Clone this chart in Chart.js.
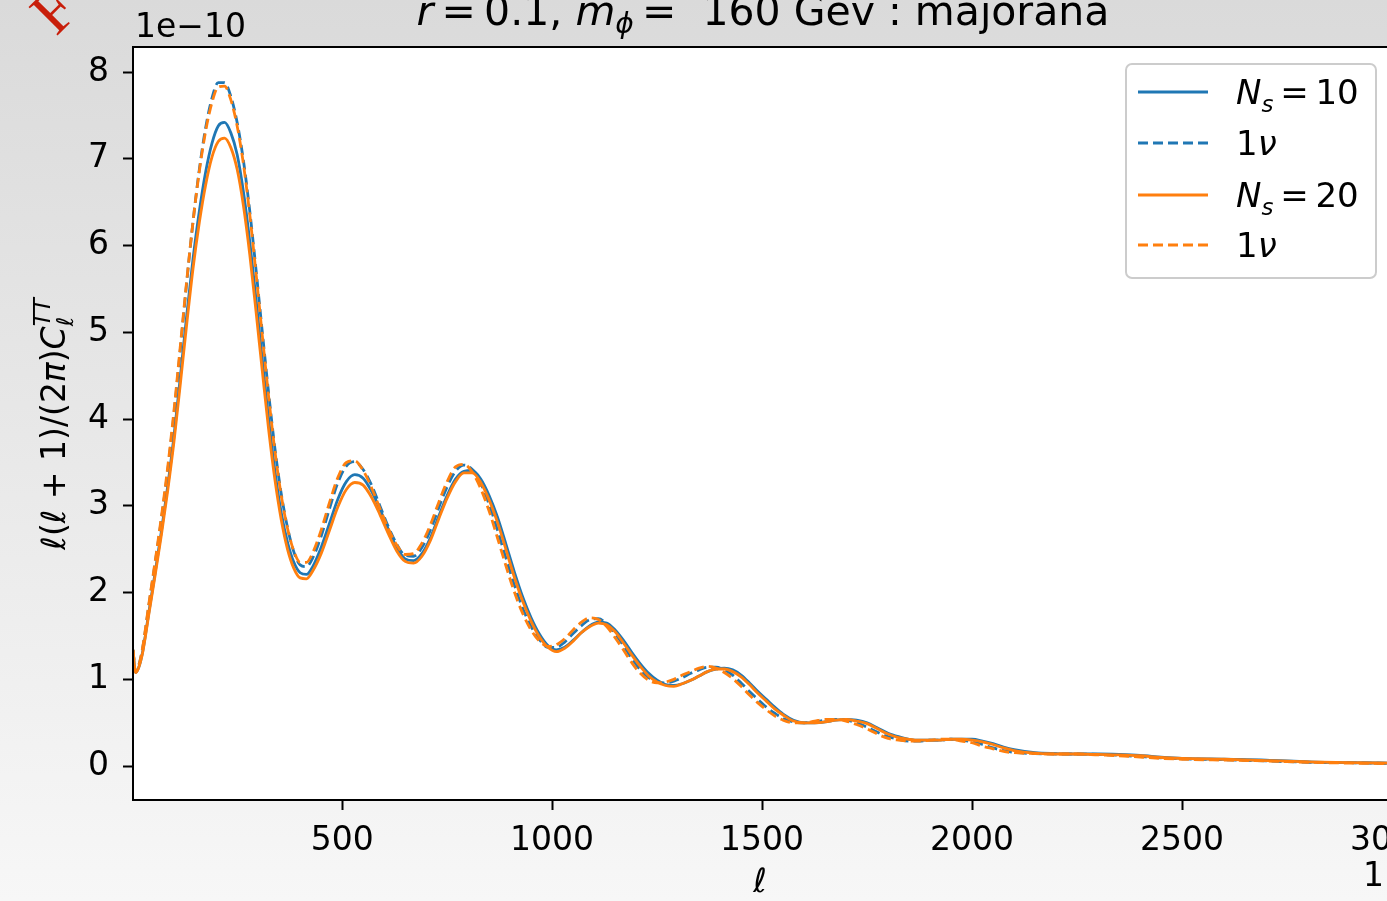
<!DOCTYPE html>
<html>
<head>
<meta charset="utf-8">
<script src="https://cdn.jsdelivr.net/npm/chart.js@4.4.1/dist/chart.umd.min.js"></script>
<style>
  html, body { margin: 0; padding: 0; overflow: hidden; width: 1387px; height: 901px; }
  canvas { display: block; }
</style>
</head>
<body>
<canvas id="cl" width="1450" height="901"></canvas>
<script>
// multipole grid
const ell = [
  2, 8, 15, 25, 40, 55, 70, 85, 100, 115, 130, 145, 160, 175, 190, 205, 220, 235, 250, 265, 280, 295, 310, 325, 340, 355, 370, 385, 400, 415,
  430, 450, 470, 490, 510, 530, 550, 570, 590, 610, 630, 650, 670, 690, 710, 730, 750, 770, 790, 810, 830, 850, 870, 890, 910, 930, 950, 970, 990, 1010,
  1030, 1050, 1070, 1090, 1110, 1130, 1150, 1170, 1190, 1210, 1230, 1250, 1270, 1290, 1310, 1330, 1350, 1370, 1390, 1410, 1430, 1450, 1470, 1490, 1510, 1530, 1550,
  1575, 1600, 1625, 1650, 1675, 1700, 1725, 1750, 1775, 1800, 1825, 1850, 1875, 1900, 1925, 1950, 1975, 2000, 2025, 2050, 2075, 2100,
  2150, 2200, 2250, 2300, 2350, 2400, 2450, 2500, 2600, 2700, 2800, 2900, 3000
];

// l(l+1)/(2pi) C_l^TT in units of 1e-10
const ns10 = [
  1.34, 1.08, 1.13, 1.32, 1.78, 2.24, 2.72, 3.24, 3.82, 4.50, 5.20, 5.85, 6.40, 6.85, 7.18, 7.38, 7.42, 7.30, 7.05, 6.62, 6.05, 5.38, 4.68, 4.00, 3.40, 2.92, 2.58, 2.35, 2.23, 2.21,
  2.30, 2.52, 2.80, 3.08, 3.28, 3.36, 3.32, 3.17, 2.96, 2.73, 2.52, 2.39, 2.37, 2.45, 2.63, 2.88, 3.12, 3.31, 3.40, 3.41, 3.31, 3.12, 2.87, 2.56, 2.24, 1.95, 1.71, 1.52, 1.39, 1.34,
  1.37, 1.45, 1.54, 1.62, 1.66, 1.65, 1.57, 1.45, 1.31, 1.18, 1.07, 0.99, 0.94, 0.93, 0.95, 0.99, 1.04, 1.09, 1.12, 1.13, 1.11, 1.05, 0.96, 0.86, 0.77, 0.68, 0.60,
  0.53, 0.50, 0.50, 0.51, 0.53, 0.54, 0.53, 0.50, 0.44, 0.38, 0.34, 0.31, 0.30, 0.30, 0.30, 0.31, 0.31, 0.31, 0.29, 0.26, 0.22, 0.19,
  0.155, 0.145, 0.14, 0.14, 0.135, 0.125, 0.105, 0.09, 0.08, 0.07, 0.05, 0.04, 0.035
];
const ns10OneNu = [
  1.34, 1.09, 1.15, 1.36, 1.86, 2.35, 2.86, 3.42, 4.08, 4.82, 5.58, 6.28, 6.88, 7.36, 7.70, 7.88, 7.88, 7.72, 7.42, 6.98, 6.40, 5.72, 5.00, 4.30, 3.66, 3.14, 2.75, 2.47, 2.32, 2.30,
  2.40, 2.65, 2.97, 3.27, 3.46, 3.51, 3.42, 3.24, 3.00, 2.76, 2.56, 2.43, 2.42, 2.52, 2.72, 2.98, 3.22, 3.40, 3.47, 3.42, 3.26, 3.02, 2.72, 2.40, 2.09, 1.82, 1.61, 1.46, 1.37, 1.37,
  1.43, 1.53, 1.62, 1.69, 1.70, 1.64, 1.53, 1.39, 1.24, 1.11, 1.02, 0.97, 0.96, 0.98, 1.02, 1.07, 1.11, 1.14, 1.14, 1.11, 1.05, 0.96, 0.86, 0.77, 0.68, 0.61, 0.55,
  0.51, 0.50, 0.51, 0.53, 0.54, 0.53, 0.50, 0.45, 0.39, 0.34, 0.31, 0.29, 0.29, 0.30, 0.30, 0.31, 0.30, 0.28, 0.25, 0.21, 0.18, 0.16,
  0.145, 0.14, 0.14, 0.135, 0.125, 0.11, 0.095, 0.085, 0.075, 0.06, 0.045, 0.04, 0.03
];
const ns20 = [
  1.34, 1.08, 1.13, 1.31, 1.76, 2.21, 2.68, 3.19, 3.76, 4.42, 5.10, 5.74, 6.27, 6.70, 7.02, 7.20, 7.24, 7.13, 6.88, 6.46, 5.90, 5.24, 4.55, 3.88, 3.30, 2.84, 2.50, 2.28, 2.17, 2.16,
  2.25, 2.45, 2.72, 2.99, 3.19, 3.27, 3.24, 3.10, 2.90, 2.68, 2.48, 2.36, 2.34, 2.42, 2.60, 2.85, 3.09, 3.28, 3.38, 3.38, 3.27, 3.07, 2.81, 2.50, 2.18, 1.90, 1.67, 1.49, 1.37, 1.32,
  1.36, 1.44, 1.54, 1.61, 1.65, 1.63, 1.55, 1.42, 1.28, 1.15, 1.04, 0.97, 0.93, 0.92, 0.95, 0.99, 1.04, 1.09, 1.12, 1.12, 1.09, 1.03, 0.94, 0.84, 0.75, 0.66, 0.59,
  0.52, 0.50, 0.50, 0.51, 0.53, 0.54, 0.52, 0.49, 0.43, 0.37, 0.33, 0.31, 0.30, 0.30, 0.30, 0.31, 0.31, 0.30, 0.28, 0.25, 0.21, 0.18,
  0.15, 0.14, 0.14, 0.135, 0.13, 0.12, 0.10, 0.09, 0.08, 0.065, 0.05, 0.04, 0.035
];
const ns20OneNu = [
  1.34, 1.09, 1.15, 1.37, 1.88, 2.37, 2.89, 3.46, 4.12, 4.86, 5.60, 6.28, 6.86, 7.32, 7.65, 7.83, 7.84, 7.68, 7.38, 6.94, 6.36, 5.68, 4.96, 4.26, 3.63, 3.12, 2.74, 2.48, 2.35, 2.35,
  2.46, 2.72, 3.04, 3.33, 3.50, 3.52, 3.41, 3.21, 2.97, 2.74, 2.55, 2.44, 2.45, 2.57, 2.78, 3.04, 3.28, 3.45, 3.48, 3.39, 3.20, 2.94, 2.63, 2.31, 2.01, 1.76, 1.57, 1.44, 1.38, 1.40,
  1.47, 1.57, 1.66, 1.71, 1.69, 1.61, 1.48, 1.34, 1.19, 1.07, 0.99, 0.96, 0.97, 1.00, 1.05, 1.09, 1.13, 1.15, 1.13, 1.08, 1.01, 0.92, 0.82, 0.73, 0.65, 0.58, 0.53,
  0.50, 0.50, 0.52, 0.54, 0.54, 0.52, 0.48, 0.43, 0.37, 0.32, 0.30, 0.29, 0.29, 0.30, 0.31, 0.31, 0.29, 0.27, 0.23, 0.20, 0.17, 0.155,
  0.145, 0.14, 0.14, 0.13, 0.12, 0.105, 0.09, 0.08, 0.07, 0.06, 0.045, 0.035, 0.03
];

const xTicks = [500, 1000, 1500, 2000, 2500, 3000];
const yTicks = [0, 1, 2, 3, 4, 5, 6, 7, 8];

const BLUE = '#1f77b4';
const ORANGE = '#ff7f0e';
const FONT = 'DejaVu Sans';

function pts(arr) {
  return ell.map((l, i) => ({ x: l, y: arr[i] }));
}

// draw a row of text pieces (italic, sub/superscripts)
function runsWidth(ctx, runs, size) {
  let w = 0;
  runs.forEach(r => {
    ctx.font = (r.it ? 'italic ' : '') + Math.round(size * (r.sz || 1)) + 'px "' + FONT + '"';
    const mw = ctx.measureText(r.t).width;
    if (!r.stay) w += mw;
  });
  return w;
}
function drawRuns(ctx, runs, x, y, size, align) {
  let cx = x;
  if (align === 'center') cx = x - runsWidth(ctx, runs, size) / 2;
  ctx.textAlign = 'left';
  ctx.textBaseline = 'alphabetic';
  runs.forEach(r => {
    ctx.font = (r.it ? 'italic ' : '') + Math.round(size * (r.sz || 1)) + 'px "' + FONT + '"';
    ctx.fillText(r.t, cx, y + (r.dy || 0));
    if (!r.stay) cx += ctx.measureText(r.t).width;
  });
}

const decor = {
  id: 'decor',
  beforeDraw(chart) {
    const { ctx, chartArea: a } = chart;
    ctx.save();
    const g = ctx.createLinearGradient(0, 0, 0, chart.height);
    g.addColorStop(0, '#dadada');
    g.addColorStop(1, '#f7f7f7');
    ctx.fillStyle = g;
    ctx.fillRect(0, 0, chart.width, chart.height);
    ctx.fillStyle = '#ffffff';
    ctx.fillRect(a.left, a.top, a.right - a.left, a.bottom - a.top);
    ctx.restore();
  },
  afterDraw(chart) {
    const { ctx, chartArea: a } = chart;
    ctx.save();
    // frame
    ctx.strokeStyle = '#000';
    ctx.lineWidth = 2;
    ctx.strokeRect(a.left, a.top, a.right - a.left, a.bottom - a.top);

    ctx.fillStyle = '#000';
    // title
    drawRuns(ctx, [
      { t: 'r', it: true }, { t: '\u2009=\u2009' }, { t: '0.1, ' },
      { t: 'm', it: true }, { t: '\u03d5', it: true, sz: 0.7, dy: 8 },
      { t: '\u2009= ' }, { t: ' 160 Gev : majorana' }
    ], 763, 25, 40.5, 'center');

    // offset text
    ctx.font = '33px "' + FONT + '"';
    ctx.textAlign = 'left';
    ctx.fillText('1e\u221210', 135, 37);
    ctx.fillText('1.', 1363, 886);

    // x label
    drawRuns(ctx, [{ t: '\u2113', it: true }], 760, 892, 33, 'center');

    // y label
    ctx.save();
    ctx.translate(65, 424);
    ctx.rotate(-Math.PI / 2);
    drawRuns(ctx, [
      { t: '\u2113', it: true }, { t: '(' }, { t: '\u2113', it: true }, { t: ' + 1)/(2' },
      { t: '\u03c0', it: true }, { t: ')' }, { t: 'C', it: true },
      { t: '\u2113', it: true, sz: 0.7, dy: 8, stay: true }, { t: 'TT', it: true, sz: 0.7, dy: -15 }
    ], 0, 0, 33, 'center');
    ctx.restore();

    // legend
    const lx = 1126, ly = 64, lw = 250, lh = 214;
    ctx.beginPath();
    ctx.roundRect(lx, ly, lw, lh, 6);
    ctx.fillStyle = 'rgba(255,255,255,0.85)';
    ctx.fill();
    ctx.strokeStyle = '#cccccc';
    ctx.lineWidth = 2;
    ctx.stroke();
    const rows = [
      { c: BLUE, dash: [], runs: [{ t: 'N', it: true }, { t: 's', it: true, sz: 0.7, dy: 8 }, { t: '\u2009=\u200910' }] },
      { c: BLUE, dash: [10, 5], runs: [{ t: '1' }, { t: '\u03bd', it: true }] },
      { c: ORANGE, dash: [], runs: [{ t: 'N', it: true }, { t: 's', it: true, sz: 0.7, dy: 8 }, { t: '\u2009=\u200920' }] },
      { c: ORANGE, dash: [10, 5], runs: [{ t: '1' }, { t: '\u03bd', it: true }] }
    ];
    const rowY = [92, 143, 195, 245];
    rows.forEach((r, i) => {
      ctx.beginPath();
      ctx.setLineDash(r.dash);
      ctx.strokeStyle = r.c;
      ctx.lineWidth = 2.8;
      ctx.moveTo(1138, rowY[i]);
      ctx.lineTo(1208, rowY[i]);
      ctx.stroke();
      ctx.setLineDash([]);
      ctx.fillStyle = '#000';
      drawRuns(ctx, r.runs, 1236, rowY[i] + 12, 33.5, 'left');
    });

    // red mark in the corner
    ctx.save();
    ctx.translate(56, 37);
    ctx.rotate(-Math.PI / 4);
    ctx.fillStyle = '#c81e0a';
    ctx.font = '62px "Liberation Serif"';
    ctx.textAlign = 'left';
    ctx.fillText('F', 0, 0);
    ctx.restore();

    ctx.restore();
  }
};

const ctx = document.getElementById('cl').getContext('2d');
new Chart(ctx, {
  type: 'line',
  data: {
    datasets: [
      { label: 'N_s = 10', data: pts(ns10), borderColor: BLUE, order: 4 },
      { label: '1\u03bd', data: pts(ns10OneNu), borderColor: BLUE, borderDash: [10, 5], order: 3 },
      { label: 'N_s = 20', data: pts(ns20), borderColor: ORANGE, order: 2 },
      { label: '1\u03bd', data: pts(ns20OneNu), borderColor: ORANGE, borderDash: [10, 5], order: 1 }
    ]
  },
  options: {
    responsive: false,
    animation: false,
    devicePixelRatio: 1,
    layout: { padding: { top: 47, right: 58, left: 0, bottom: 0 } },
    elements: {
      point: { radius: 0 },
      line: { borderWidth: 2.8, cubicInterpolationMode: 'monotone', fill: false }
    },
    plugins: {
      legend: { display: false },
      tooltip: { enabled: false }
    },
    scales: {
      x: {
        type: 'linear',
        min: 2,
        max: 3000,
        afterBuildTicks: s => { s.ticks = xTicks.map(v => ({ value: v })); },
        afterFit: s => { s.height = 101; },
        grid: { drawOnChartArea: false, tickLength: 10, tickColor: '#000', tickWidth: 2 },
        border: { color: '#000', width: 2 },
        ticks: { color: '#000', font: { family: FONT, size: 33 }, padding: 12, maxRotation: 0, callback: v => String(v) }
      },
      y: {
        min: -0.39,
        max: 8.29,
        afterBuildTicks: s => { s.ticks = yTicks.map(v => ({ value: v })); },
        afterFit: s => { s.width = 133; },
        grid: { drawOnChartArea: false, tickLength: 10, tickColor: '#000', tickWidth: 2 },
        border: { color: '#000', width: 2 },
        ticks: { color: '#000', font: { family: FONT, size: 33 }, padding: 14, callback: v => String(v) }
      }
    }
  },
  plugins: [decor]
});
</script>
</body>
</html>
